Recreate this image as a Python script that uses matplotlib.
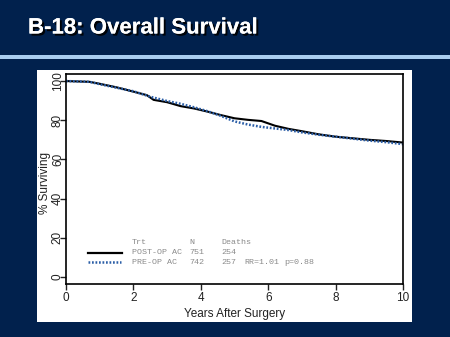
import matplotlib
matplotlib.use("Agg")
import matplotlib.pyplot as plt
from matplotlib.patches import Rectangle
import matplotlib.patheffects as pe

# Kaplan-Meier estimates (% surviving) by treatment arm
post_years = [0, 0.7, 1.0, 1.5, 2.0, 2.4, 2.6, 3.0, 3.4, 3.8, 4.2, 4.6, 5.0,
              5.4, 5.8, 6.0, 6.2, 6.6, 7.0, 7.5, 8.0, 8.5, 9.0, 9.5, 10.0]
post_surv = [100, 99.6, 98.6, 96.8, 94.6, 92.8, 90.4, 89.2, 87.2, 86.0, 84.4,
             82.6, 81.0, 80.2, 79.6, 78.4, 77.2, 75.6, 74.4, 72.8, 71.6, 70.8,
             70.0, 69.4, 68.6]
pre_years = [0, 0.7, 1.0, 1.5, 2.0, 2.5, 3.0, 3.4, 3.8, 4.2, 4.6, 5.0, 5.4,
             5.8, 6.2, 6.6, 7.0, 7.5, 8.0, 8.5, 9.0, 9.5, 10.0]
pre_surv = [100, 99.6, 98.4, 96.6, 94.8, 92.0, 89.8, 88.4, 86.6, 84.6, 82.2,
            79.4, 77.8, 76.6, 75.8, 75.0, 73.8, 72.6, 71.6, 70.6, 69.6, 68.8,
            67.8]

arms = ["POST-OP AC", "PRE-OP AC"]
n_pts = [751, 742]
deaths = [254, 257]
rr_text = "RR=1.01"
p_text = "p=0.88"

x_ticks = [0, 2, 4, 6, 8, 10]
y_ticks = [0, 20, 40, 60, 80, 100]

navy = "#01214d"
W, H = 450, 337

fig = plt.figure(figsize=(W / 100, H / 100), dpi=100, facecolor=navy)

# slide header
fig.text(28 / W, 1 - 28 / H, "B-18: Overall Survival", color="white",
         fontsize=16, fontweight="bold", family="Liberation Sans", va="center",
         path_effects=[pe.withSimplePatchShadow(offset=(1.5, -1.5),
                                                shadow_rgbFace="black", alpha=0.9),
                       pe.Normal()])
fig.patches.append(Rectangle((0, 1 - 59 / H), 1, 4 / H, transform=fig.transFigure,
                             facecolor="#a9cdf0", edgecolor="none", zorder=-2))

# white panel behind the plot
fig.patches.append(Rectangle((37 / W, 1 - 322 / H), 375 / W, 252 / H,
                             transform=fig.transFigure, facecolor="white",
                             edgecolor="none", zorder=-2))

ax = fig.add_axes([66 / W, 1 - 284 / H, 337 / W, 210 / H])
ax.set_facecolor("white")

ax.plot(post_years, post_surv, color="black", lw=1.5, solid_capstyle="butt")
ax.plot(pre_years, pre_surv, color="#2b5ea7", lw=1.8, linestyle=(0, (0.7, 0.7)))

ax.set_xlim(0, 10)
ax.set_ylim(-3.6, 103.6)
ax.set_xticks(x_ticks)
ax.set_yticks(y_ticks)
ax.tick_params(direction="out", length=4, width=1, labelsize=8.5, pad=2,
               colors="#222222")
ax.tick_params(axis="y", pad=-2.5)
for lab in ax.get_yticklabels():
    lab.set_rotation(90)
    lab.set_va("center")
for lab in ax.get_xticklabels() + ax.get_yticklabels():
    lab.set_family("Liberation Sans")
for s in ax.spines.values():
    s.set_linewidth(1.2)

ax.set_xlabel("Years After Surgery", fontsize=8.5, family="Liberation Sans",
              color="#222222")
ax.xaxis.set_label_coords(0.5, -0.143)
ax.xaxis.label.set_va("center")
ax.set_ylabel("% Surviving", fontsize=8.5, family="Liberation Sans",
              color="#222222")
ax.yaxis.set_label_coords(-0.062, 0.48)
ax.yaxis.label.set_va("center")

# treatment key in the lower left
gray = "#8a8a8a"
mono = dict(fontsize=6.0, family="Liberation Mono", color=gray, va="center",
            transform=ax.transAxes)
rows_y = [(284 - 243) / 210, (284 - 253) / 210, (284 - 262) / 210]
cols_x = [0.196, 0.365, 0.460, 0.528, 0.647]
ax.text(cols_x[0], rows_y[0], "Trt", **mono)
ax.text(cols_x[1], rows_y[0], "N", **mono)
ax.text(cols_x[2], rows_y[0], "Deaths", **mono)
for i in range(2):
    ax.text(cols_x[0], rows_y[i + 1], arms[i], **mono)
    ax.text(cols_x[1], rows_y[i + 1], str(n_pts[i]), **mono)
    ax.text(cols_x[2], rows_y[i + 1], str(deaths[i]), **mono)
ax.text(cols_x[3], rows_y[2], rr_text, **mono)
ax.text(cols_x[4], rows_y[2], p_text, **mono)
ax.plot([0.065, 0.166], [rows_y[1]] * 2, color="black", lw=1.6,
        transform=ax.transAxes)
ax.plot([0.065, 0.163], [rows_y[2]] * 2, color="#2b5ea7", lw=1.8,
        linestyle=(0, (0.7, 0.7)), transform=ax.transAxes)

fig.savefig("out.png", dpi=100, facecolor=navy)
